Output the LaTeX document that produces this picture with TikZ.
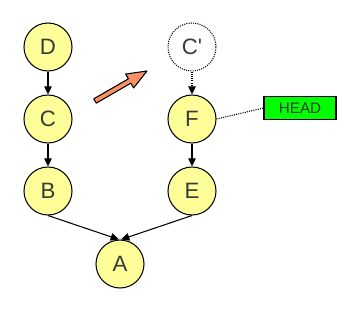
\documentclass[tikz,border=0pt]{standalone}
\usepackage{fontspec}
\setmainfont{Liberation Sans}
\usetikzlibrary{arrows.meta}
\definecolor{commitfill}{HTML}{FFFF99}
\definecolor{textgray}{HTML}{3A3A3A}
\definecolor{headgreen}{HTML}{00FF00}
\definecolor{moveorange}{HTML}{F79166}
\begin{document}
\begin{tikzpicture}[x=0.03cm, y=-0.03cm, every node/.style={font=\fontsize{19}{21}\selectfont, text=textgray},
  c/.style={circle, draw, line width=0.9pt, fill=commitfill, minimum size=1.44cm, inner sep=0pt},
  e/.style={-{Triangle[length=7pt,width=6.5pt]}, line width=0.9pt}]
  \useasboundingbox (0,0) rectangle (361,313);
  \node[c] (d) at (48,47) {D};
  \node[c] (c) at (48,119) {C};
  \node[c] (b) at (48,191) {B};
  \node[c] (a) at (120,264) {A};
  \node[c, fill=white, densely dotted] (cp) at (192,47) {C\textquotesingle};
  \node[c] (f) at (192,119) {F};
  \node[c] (e) at (192,191) {E};
  \node[draw, line width=0.9pt, fill=headgreen, minimum width=2.16cm, minimum height=0.69cm, inner sep=0pt, font=\fontsize{13}{15}\selectfont] (head) at (300,108) {HEAD};
  \draw[e] (d) -- (c);
  \draw[e] (c) -- (b);
  \draw[e] (b.south) -- ([xshift=-1pt]a.north);
  \draw[e] (e.south) -- ([xshift=1pt]a.north);
  \draw[e, densely dotted] (cp) -- (f);
  \draw[e] (f) -- (e);
  \draw[densely dotted, line width=0.9pt] (f.east) -- (head.west);
  % rebase move
  \begin{scope}[shift={(95,101)}, rotate=30]
    \draw[line width=0.9pt, fill=moveorange, line join=round]
      (0,-2.5) -- (40,-2.5) -- (40,-8) -- (60,0) -- (40,8) -- (40,2.5) -- (0,2.5) -- cycle;
  \end{scope}
\end{tikzpicture}
\end{document}
